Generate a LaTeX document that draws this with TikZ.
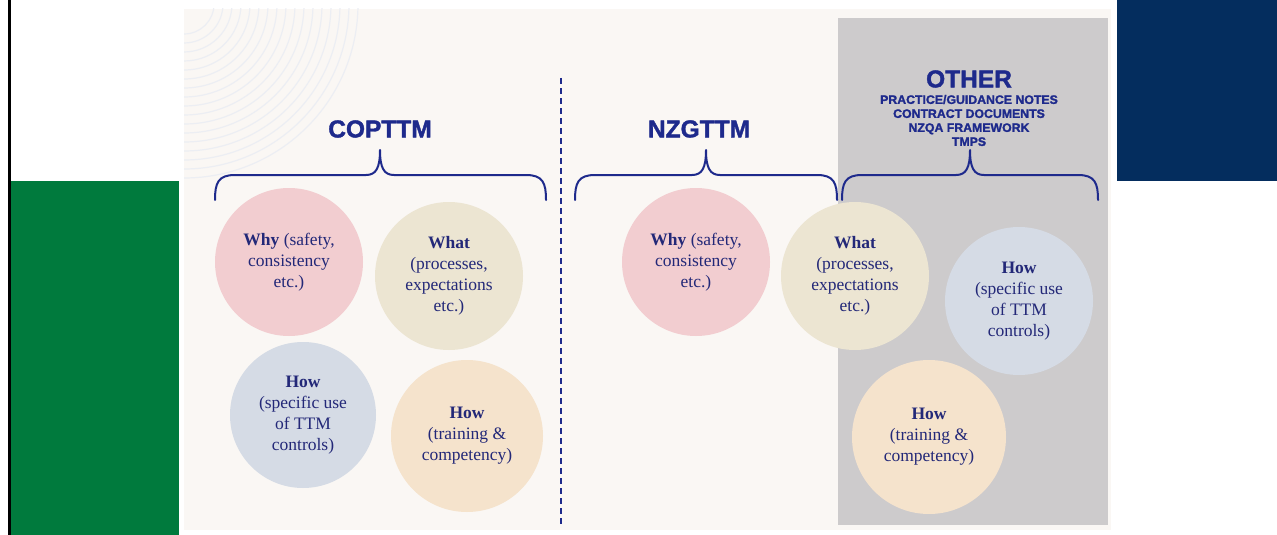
\documentclass[tikz,border=0pt]{standalone}
\usepackage{fontspec}
\setmainfont{Liberation Serif}
\newfontfamily\headfont[FakeBold=1.6]{Liberation Sans}
\definecolor{greenbar}{RGB}{0,122,61}
\definecolor{navybar}{RGB}{4,45,94}
\definecolor{panel}{RGB}{250,247,244}
\definecolor{graybox}{RGB}{205,203,204}
\definecolor{arcc}{RGB}{236,238,243}
\definecolor{titlec}{RGB}{30,42,140}
\definecolor{txtc}{RGB}{35,40,120}
\definecolor{pinkc}{RGB}{242,205,208}
\definecolor{beigec}{RGB}{236,229,210}
\definecolor{bluec}{RGB}{213,219,229}
\definecolor{peachc}{RGB}{245,227,204}
\tikzset{
  bubble/.style={circle, inner sep=0pt, align=center, text=txtc,
    font=\fontsize{17.5}{21}\selectfont},
  title/.style={text=titlec, font=\headfont\bfseries\fontsize{24.5}{28}\selectfont, inner sep=0pt},
  subtitle/.style={text=titlec, font=\headfont\bfseries\fontsize{12.3}{14}\selectfont, inner sep=0pt, align=center},
  bracec/.style={draw=titlec, line width=2pt, line cap=round, line join=round},
}
\begin{document}
\begin{tikzpicture}[x=1pt,y=-1pt]
\useasboundingbox (0,0) rectangle (1277,535);
\fill[white] (0,0) rectangle (1277,535);
% side bars
\fill[black] (8,0) rectangle (11,535);
\fill[greenbar] (11,181) rectangle (179,535);
\fill[navybar] (1117,0) rectangle (1277,181);
% panel
\fill[panel] (184,9) rectangle (1111,530);
\begin{scope}
\clip (184,9) rectangle (1111,530);
\foreach \r in {30,39,...,175} {
  \draw[arcc, line width=1.2pt] (184,\r+4) arc[start angle=90, end angle=0, radius=\r];
}
\end{scope}
\fill[graybox] (838,18) rectangle (1108,525);
% dashed divider
\draw[titlec, line width=2pt, dash pattern=on 6pt off 4pt] (561,78) -- (561,525);
% titles
\node[title] (copttm) at (380,129) {COPTTM};
\node[title] (nzgttm) at (699,129) {NZGTTM};
\node[title] (other) at (969,79) {OTHER};
\node[subtitle] (othersub) at (969,120.5) {PRACTICE/GUIDANCE NOTES\\CONTRACT DOCUMENTS\\NZQA FRAMEWORK\\TMPS};
% braces
\draw[bracec] (215,200) .. controls (215,183) and (218,175) .. (235,175) -- (366,175) .. controls (376,175) and (380,168) .. (380,150)
  .. controls (380,168) and (384,175) .. (394,175) -- (526,175) .. controls (543,175) and (546,183) .. (546,200);
\draw[bracec] (575,200) .. controls (575,183) and (578,175) .. (595,175) -- (692,175) .. controls (702,175) and (706,168) .. (706,150)
  .. controls (706,168) and (710,175) .. (720,175) -- (817,175) .. controls (834,175) and (837,183) .. (837,200);
\draw[bracec] (842,200) .. controls (842,183) and (845,175) .. (862,175) -- (956,175) .. controls (966,175) and (970,168) .. (970,150)
  .. controls (970,168) and (974,175) .. (984,175) -- (1078,175) .. controls (1095,175) and (1098,183) .. (1098,200);
% COPTTM bubbles
\node[bubble, fill=pinkc, minimum size=148pt] (cwhy) at (289,262) {\textbf{Why} (safety,\\consistency\\etc.)};
\node[bubble, fill=beigec, minimum size=148pt] (cwhat) at (449,276) {\textbf{What}\\(processes,\\expectations\\etc.)};
\node[bubble, fill=bluec, minimum size=146pt] (chow) at (303,415) {\textbf{How}\\(specific use\\of TTM\\controls)};
\node[bubble, fill=peachc, minimum size=152pt] (ctrain) at (467,436) {\textbf{How}\\(training \&\\competency)};
% NZGTTM bubbles
\node[bubble, fill=pinkc, minimum size=148pt] (nwhy) at (696,262) {\textbf{Why} (safety,\\consistency\\etc.)};
\node[bubble, fill=beigec, minimum size=148pt] (nwhat) at (855,276) {\textbf{What}\\(processes,\\expectations\\etc.)};
% OTHER bubbles
\node[bubble, fill=bluec, minimum size=148pt] (ohow) at (1019,301) {\textbf{How}\\(specific use\\of TTM\\controls)};
\node[bubble, fill=peachc, minimum size=154pt] (otrain) at (929,437) {\textbf{How}\\(training \&\\competency)};
\end{tikzpicture}
\end{document}
